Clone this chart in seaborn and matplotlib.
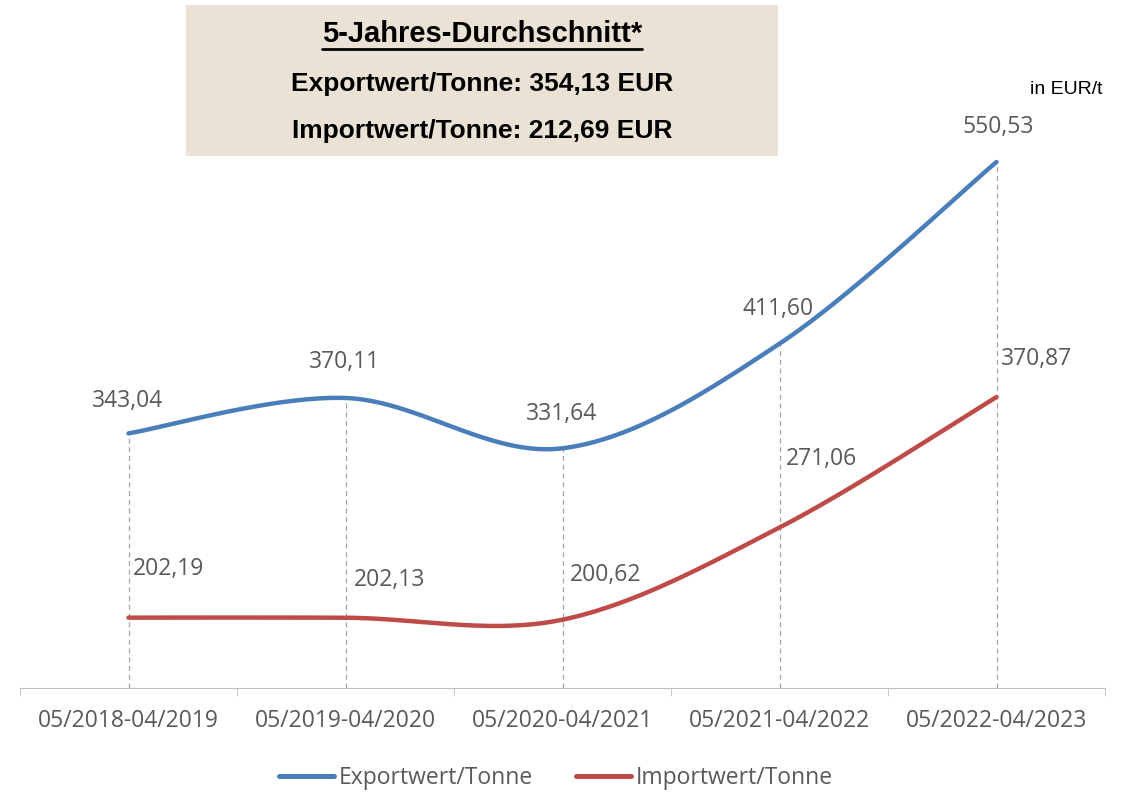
import numpy as np
import pandas as pd
import matplotlib.pyplot as plt
from matplotlib.lines import Line2D
import seaborn as sns

# daten aus der grafik
zeitraeume = ['05/2018-04/2019', '05/2019-04/2020', '05/2020-04/2021',
              '05/2021-04/2022', '05/2022-04/2023']
exportwert = [343.04, 370.11, 331.64, 411.60, 550.53]
importwert = [202.19, 202.13, 200.62, 271.06, 370.87]
serien = ['Exportwert/Tonne', 'Importwert/Tonne']
farben = ['#4A7EBB', '#BE4B48']

# versatz der beschriftungen (punkte)
versatz_export = [(-1, 23), (-1, 26), (-1, 25), (-1, 25), (1, 25)]
versatz_import = [(29, 35), (32, 27), (31, 32), (30, 49.5), (28.5, 27.5)]


def glatt(werte, n=60):
    # excel-artige glaettung (catmull-rom als bezier)
    p = np.column_stack([np.arange(len(werte)), werte]).astype(float)
    p = np.vstack([p[0], p, p[-1]])
    xs, ys = [], []
    t = np.linspace(0, 1, n)
    for i in range(1, len(p) - 2):
        b0 = p[i]
        b3 = p[i + 1]
        b1 = b0 + (p[i + 1] - p[i - 1]) / 6
        b2 = b3 - (p[i + 2] - p[i]) / 6
        kurve = ((1 - t) ** 3)[:, None] * b0 + (3 * (1 - t) ** 2 * t)[:, None] * b1 \
            + (3 * (1 - t) * t ** 2)[:, None] * b2 + (t ** 3)[:, None] * b3
        xs.extend(kurve[:, 0])
        ys.extend(kurve[:, 1])
    return xs, ys


teile = []
for name, werte in zip(serien, [exportwert, importwert]):
    x, y = glatt(werte)
    teile.append(pd.DataFrame({'x': x, 'wert': y, 'serie': name}))
dados = pd.concat(teile, ignore_index=True)

sns.set_style('white')
plt.rcParams['font.family'] = ['Open Sans', 'DejaVu Sans']

fig = plt.figure(figsize=(11.3, 7.92), dpi=100)
ax = fig.add_axes([20 / 1130, 1 - 688 / 792, 1085 / 1130, 588 / 792])

sns.lineplot(data=dados, x='x', y='wert', hue='serie', palette=farben,
             linewidth=3.2, sort=False, legend=False, ax=ax)

ax.set_xlim(-0.5, 4.5)
ax.set_ylim(148.4, 597.9)

# gestrichelte linien zu den punkten
for i, (e, imp) in enumerate(zip(exportwert, importwert)):
    ax.plot([i, i], [148.4, max(e, imp)], color='#A6A6A6', lw=0.9,
            ls=(0, (4, 3)), zorder=0)

# beschriftungen
for i, v in enumerate(exportwert):
    ax.annotate(f'{v:.2f}'.replace('.', ','), (i, v), xytext=versatz_export[i],
                textcoords='offset points', ha='center', va='center',
                fontsize=16.5, color='#595959')
for i, v in enumerate(importwert):
    ax.annotate(f'{v:.2f}'.replace('.', ','), (i, v), xytext=versatz_import[i],
                textcoords='offset points', ha='center', va='center',
                fontsize=16.5, color='#595959')

sns.despine(ax=ax, left=True, top=True, right=True)
ax.spines['bottom'].set_color('#BFBFBF')
ax.set_yticks([])
ax.set_xticks(range(len(zeitraeume)))
ax.set_xticklabels(zeitraeume, fontsize=16.5, color='#595959')
ax.set_xticks(np.arange(-0.5, 5, 1), minor=True)
ax.tick_params(axis='x', which='major', length=0, pad=15)
ax.tick_params(axis='x', which='minor', length=6, color='#BFBFBF', bottom=True)
ax.set_xlabel('')
ax.set_ylabel('')

# kasten oben
fig.patches.append(plt.Rectangle((186 / 1130, 1 - 156 / 792), 592 / 1130, 151 / 792,
                                 transform=fig.transFigure, facecolor='#EAE2D4',
                                 edgecolor='none', zorder=0))
titel = fig.text(482 / 1130, 1 - 34 / 792, '5-Jahres-Durchschnitt*', ha='center',
                 va='center', fontsize=21, fontweight='bold', color='black',
                 family='Liberation Sans')
fig.text(482 / 1130, 1 - 84 / 792, 'Exportwert/Tonne: 354,13 EUR', ha='center',
         va='center', fontsize=19, fontweight='bold', color='black',
         family='Liberation Sans')
fig.text(482 / 1130, 1 - 131 / 792, 'Importwert/Tonne: 212,69 EUR', ha='center',
         va='center', fontsize=19, fontweight='bold', color='black',
         family='Liberation Sans')
fig.text(1066 / 1130, 1 - 90 / 792, 'in EUR/t', ha='center', va='center',
         fontsize=14, color='black', family='Liberation Sans')

fig.canvas.draw()
bb = titel.get_window_extent().transformed(fig.transFigure.inverted())
fig.add_artist(Line2D([bb.x0, bb.x1], [bb.y0 - 0.001, bb.y0 - 0.001],
                      transform=fig.transFigure, color='black', lw=2))

griffe = [Line2D([0], [0], color=c, lw=3.6) for c in farben]
fig.legend(griffe, serien, loc='center', bbox_to_anchor=(0.492, 1 - 778 / 792),
           ncol=2, frameon=False, fontsize=16.5, handlelength=2.4,
           handletextpad=0.2, columnspacing=1.9, labelcolor='#595959')

plt.savefig('out.png', dpi=100)
